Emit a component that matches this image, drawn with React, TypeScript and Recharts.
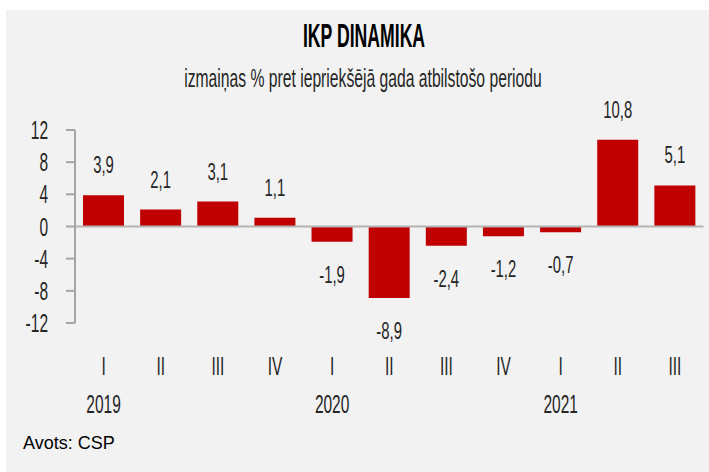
import { BarChart, Bar, XAxis, YAxis, ReferenceLine, LabelList } from 'recharts';

const quarters = ['I', 'II', 'III', 'IV', 'I', 'II', 'III', 'IV', 'I', 'II', 'III'];
const years = ['2019', '', '', '', '2020', '', '', '', '2021', '', ''];
const growth = [3.9, 2.1, 3.1, 1.1, -1.9, -8.9, -2.4, -1.2, -0.7, 10.8, 5.1];
const yTicks = [-12, -8, -4, 0, 4, 8, 12];

const data = growth.map((value, i) => ({ id: i, quarter: quarters[i], year: years[i], value }));

const FONT = '"Liberation Sans", Arial, sans-serif';
const TEXT = '#262626';
const SQUEEZE = 0.62;

const fmt = (v: number) => v.toFixed(1).replace('.', ',');

const YTick = (props: any) => {
  const { y, payload } = props;
  return (
    <text
      transform={`translate(48,${Number(y) + 9}) scale(${SQUEEZE},1)`}
      textAnchor="end"
      fontFamily={FONT}
      fontSize={25}
      fill={TEXT}
    >
      {payload.value}
    </text>
  );
};

const XTick = (props: any) => {
  const { x, y, index } = props;
  const i = index ?? props.payload?.index ?? 0;
  return (
    <g>
      <text
        transform={`translate(${x},${Number(y) + 44}) scale(${SQUEEZE},1)`}
        textAnchor="middle"
        fontFamily={FONT}
        fontSize={25}
        fill={TEXT}
      >
        {quarters[i]}
      </text>
      {years[i] && (
        <text
          transform={`translate(${x},${Number(y) + 82}) scale(${SQUEEZE},1)`}
          textAnchor="middle"
          fontFamily={FONT}
          fontSize={25}
          fill={TEXT}
        >
          {years[i]}
        </text>
      )}
    </g>
  );
};

const ValueLabel = (props: any) => {
  const x = Number(props.x);
  const y = Number(props.y);
  const w = Number(props.width);
  const h = Number(props.height);
  const v = Number(props.value);
  const top = Math.min(y, y + h);
  const bottom = Math.max(y, y + h);
  const base = v >= 0 ? top - 22 : bottom + 41;
  return (
    <text
      transform={`translate(${x + w / 2},${base}) scale(${SQUEEZE},1)`}
      textAnchor="middle"
      fontFamily={FONT}
      fontSize={24}
      fill={TEXT}
    >
      {fmt(v)}
    </text>
  );
};

export default function App() {
  return (
    <div style={{ position: 'absolute', left: 0, top: 0, width: 709, height: 472, background: '#fff' }}>
      <div style={{ position: 'absolute', left: 6, top: 10, right: 0, bottom: 0, background: '#f2f2f2' }} />
      <svg width={709} height={472} style={{ position: 'absolute', left: 0, top: 0 }}>
        <text
          transform="translate(364,47) scale(0.535,1)"
          textAnchor="middle"
          fontFamily={FONT}
          fontWeight="bold"
          fontSize={33}
          fill="#000"
        >
          IKP DINAMIKA
        </text>
        <text
          transform="translate(363,87) scale(0.628,1)"
          textAnchor="middle"
          fontFamily={FONT}
          fontSize={25}
          fill={TEXT}
        >
          izmaiņas % pret iepriekšējā gada atbilstošo periodu
        </text>
        <text x={23} y={449} fontFamily={FONT} fontSize={18} fill="#000">
          Avots: CSP
        </text>
      </svg>
      <div style={{ position: 'absolute', left: 0, top: 0 }}>
        <BarChart
          width={709}
          height={472}
          data={data}
          margin={{ top: 130, right: 5.5, bottom: 49, left: 0 }}
        >
          <XAxis
            dataKey="id"
            height={100}
            axisLine={false}
            tickLine={false}
            tick={<XTick />}
            interval={0}
          />
          <YAxis
            width={75}
            domain={[-12, 12]}
            ticks={yTicks}
            allowDataOverflow
            tickSize={9}
            axisLine={{ stroke: '#a6a6a6', strokeWidth: 2 }}
            tickLine={{ stroke: '#a6a6a6', strokeWidth: 2 }}
            tick={<YTick />}
          />
          <Bar dataKey="value" fill="#c00000" barSize={41} isAnimationActive={false}>
            <LabelList dataKey="value" content={<ValueLabel />} />
          </Bar>
          <ReferenceLine y={0} stroke="#b3b3b3" strokeWidth={2} />
        </BarChart>
      </div>
    </div>
  );
}
